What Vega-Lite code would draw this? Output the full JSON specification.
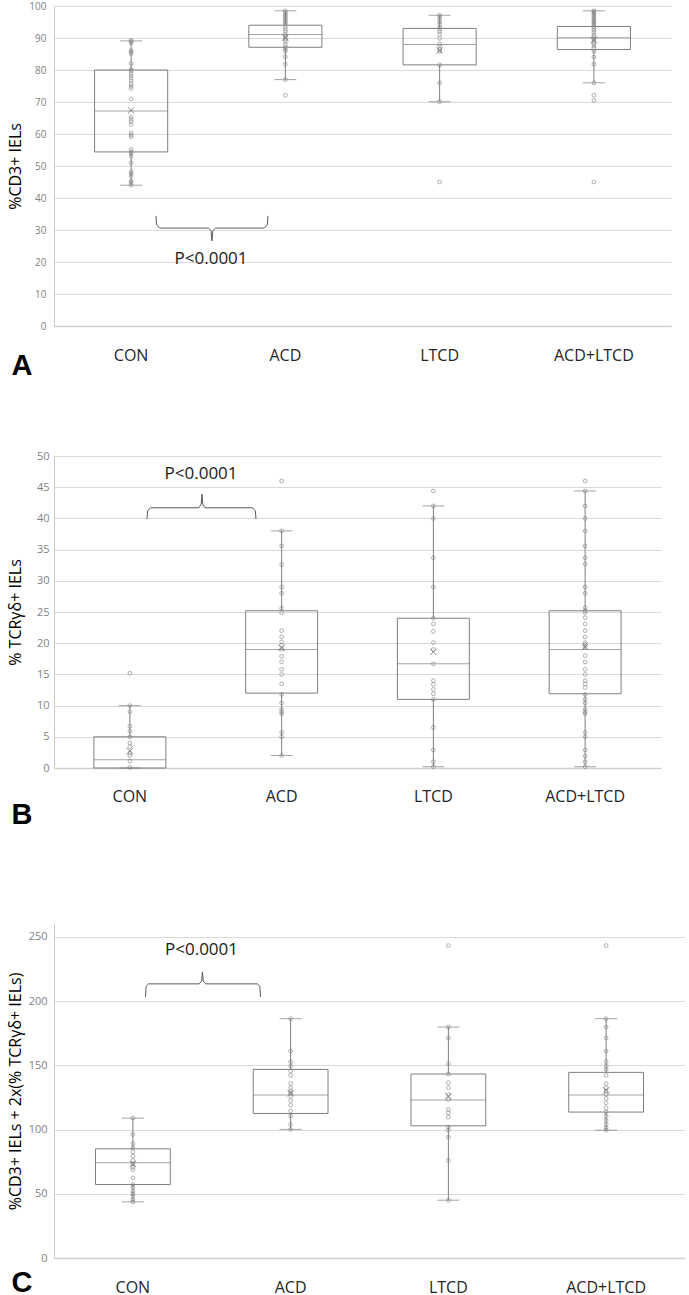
{
"$schema":"https://vega.github.io/schema/vega-lite/v6.json",
"background":"white",
"padding":{"left":7,"top":1,"right":0,"bottom":0},
"config":{"view":{"stroke":null},"font":"Open Sans",
"axis":{"labelFont":"Open Sans","titleFont":"Open Sans"},
"axisY":{"grid":true,"gridColor":"#d9d9d9","gridWidth":1,"domain":true,"domainColor":"#c8c8c8","ticks":false,"tickSize":0,"labelColor":"#7f7f7f","labelFont":"Open Sans","titleFont":"Open Sans","titleFontSize":16,"titleFontWeight":"normal","titleColor":"#000000","labelOverlap":false},
"axisX":{"titleAlign":"left","titleBaseline":"alphabetic","titleFont":"Liberation Sans","titleFontSize":29,"titleFontWeight":"bold","titleColor":"#000000","labelAngle":0,"labelFont":"Open Sans","labelFontSize":16,"labelColor":"#262626","ticks":false,"tickSize":0,"domainColor":"#d0d0d0","domainWidth":1.5,"grid":false}
},
"datasets":{
"box":[
{"p":"A","g":"CON","lo":44,"q1":54.4,"med":67.2,"q3":80,"hi":89.1,"mean":67.4},
{"p":"A","g":"ACD","lo":77,"q1":87.1,"med":91.1,"q3":94,"hi":98.5,"mean":90.1},
{"p":"A","g":"LTCD","lo":70.1,"q1":81.6,"med":88,"q3":93,"hi":97.1,"mean":86.1},
{"p":"A","g":"ACD+LTCD","lo":76,"q1":86.4,"med":90.1,"q3":93.6,"hi":98.5,"mean":89.3},
{"p":"B","g":"CON","lo":0,"q1":0,"med":1.34,"q3":5,"hi":10,"mean":2.7},
{"p":"B","g":"ACD","lo":2,"q1":12,"med":19,"q3":25.2,"hi":38,"mean":19.25},
{"p":"B","g":"LTCD","lo":0.2,"q1":11,"med":16.7,"q3":24,"hi":42,"mean":18.6},
{"p":"B","g":"ACD+LTCD","lo":0.2,"q1":11.9,"med":19,"q3":25.2,"hi":44.4,"mean":19.4},
{"p":"C","g":"CON","lo":43.7,"q1":57.2,"med":74.1,"q3":85,"hi":108.9,"mean":73.3},
{"p":"C","g":"ACD","lo":100.1,"q1":112.5,"med":126.8,"q3":146.8,"hi":186.3,"mean":128.4},
{"p":"C","g":"LTCD","lo":45,"q1":102.9,"med":122.9,"q3":143.2,"hi":179.8,"mean":126},
{"p":"C","g":"ACD+LTCD","lo":99.5,"q1":113.6,"med":126.8,"q3":144.5,"hi":186.3,"mean":130.5}
],
"pts":[
{"p":"A","g":"CON","v":89.3},{"p":"A","g":"CON","v":88.9},{"p":"A","g":"CON","v":88.4},{"p":"A","g":"CON","v":86.1},{"p":"A","g":"CON","v":85.7},{"p":"A","g":"CON","v":85.1},{"p":"A","g":"CON","v":82.0},{"p":"A","g":"CON","v":80.2},{"p":"A","g":"CON","v":79.7},{"p":"A","g":"CON","v":78.9},{"p":"A","g":"CON","v":78.1},{"p":"A","g":"CON","v":77.4},{"p":"A","g":"CON","v":76.6},{"p":"A","g":"CON","v":75.7},{"p":"A","g":"CON","v":74.9},{"p":"A","g":"CON","v":74.3},{"p":"A","g":"CON","v":71.0},{"p":"A","g":"CON","v":65.3},{"p":"A","g":"CON","v":64.6},{"p":"A","g":"CON","v":63.9},{"p":"A","g":"CON","v":63.0},{"p":"A","g":"CON","v":60.4},{"p":"A","g":"CON","v":59.7},{"p":"A","g":"CON","v":59.1},{"p":"A","g":"CON","v":55.2},{"p":"A","g":"CON","v":54.5},{"p":"A","g":"CON","v":53.9},{"p":"A","g":"CON","v":53.1},{"p":"A","g":"CON","v":51.0},{"p":"A","g":"CON","v":48.2},{"p":"A","g":"CON","v":47.6},{"p":"A","g":"CON","v":46.9},{"p":"A","g":"CON","v":45.3},{"p":"A","g":"CON","v":44.8},{"p":"A","g":"CON","v":44.0},
{"p":"A","g":"ACD","v":98.5},{"p":"A","g":"ACD","v":97.9},{"p":"A","g":"ACD","v":97.4},{"p":"A","g":"ACD","v":96.9},{"p":"A","g":"ACD","v":96.4},{"p":"A","g":"ACD","v":95.8},{"p":"A","g":"ACD","v":95.3},{"p":"A","g":"ACD","v":94.8},{"p":"A","g":"ACD","v":94.3},{"p":"A","g":"ACD","v":93.4},{"p":"A","g":"ACD","v":92.7},{"p":"A","g":"ACD","v":92.0},{"p":"A","g":"ACD","v":91.1},{"p":"A","g":"ACD","v":90.3},{"p":"A","g":"ACD","v":89.6},{"p":"A","g":"ACD","v":88.9},{"p":"A","g":"ACD","v":88.0},{"p":"A","g":"ACD","v":87.2},{"p":"A","g":"ACD","v":86.5},{"p":"A","g":"ACD","v":85.9},{"p":"A","g":"ACD","v":84.1},{"p":"A","g":"ACD","v":81.8},{"p":"A","g":"ACD","v":77.0},{"p":"A","g":"ACD","v":72.1},
{"p":"A","g":"LTCD","v":97.1},{"p":"A","g":"LTCD","v":96.6},{"p":"A","g":"LTCD","v":95.8},{"p":"A","g":"LTCD","v":95.1},{"p":"A","g":"LTCD","v":94.3},{"p":"A","g":"LTCD","v":93.4},{"p":"A","g":"LTCD","v":92.7},{"p":"A","g":"LTCD","v":92.0},{"p":"A","g":"LTCD","v":91.1},{"p":"A","g":"LTCD","v":89.9},{"p":"A","g":"LTCD","v":88.2},{"p":"A","g":"LTCD","v":87.5},{"p":"A","g":"LTCD","v":86.5},{"p":"A","g":"LTCD","v":85.9},{"p":"A","g":"LTCD","v":81.6},{"p":"A","g":"LTCD","v":76.0},{"p":"A","g":"LTCD","v":70.1},{"p":"A","g":"LTCD","v":45.0},
{"p":"A","g":"ACD+LTCD","v":98.5},{"p":"A","g":"ACD+LTCD","v":98.2},{"p":"A","g":"ACD+LTCD","v":97.7},{"p":"A","g":"ACD+LTCD","v":97.2},{"p":"A","g":"ACD+LTCD","v":96.7},{"p":"A","g":"ACD+LTCD","v":96.1},{"p":"A","g":"ACD+LTCD","v":95.6},{"p":"A","g":"ACD+LTCD","v":95.1},{"p":"A","g":"ACD+LTCD","v":94.6},{"p":"A","g":"ACD+LTCD","v":94.1},{"p":"A","g":"ACD+LTCD","v":93.5},{"p":"A","g":"ACD+LTCD","v":93.0},{"p":"A","g":"ACD+LTCD","v":92.4},{"p":"A","g":"ACD+LTCD","v":91.7},{"p":"A","g":"ACD+LTCD","v":90.9},{"p":"A","g":"ACD+LTCD","v":90.3},{"p":"A","g":"ACD+LTCD","v":89.6},{"p":"A","g":"ACD+LTCD","v":88.9},{"p":"A","g":"ACD+LTCD","v":88.2},{"p":"A","g":"ACD+LTCD","v":87.5},{"p":"A","g":"ACD+LTCD","v":86.8},{"p":"A","g":"ACD+LTCD","v":85.9},{"p":"A","g":"ACD+LTCD","v":84.1},{"p":"A","g":"ACD+LTCD","v":81.8},{"p":"A","g":"ACD+LTCD","v":76.0},{"p":"A","g":"ACD+LTCD","v":72.1},{"p":"A","g":"ACD+LTCD","v":70.5},{"p":"A","g":"ACD+LTCD","v":45.0},
{"p":"B","g":"CON","v":15.2},{"p":"B","g":"CON","v":10.0},{"p":"B","g":"CON","v":9.0},{"p":"B","g":"CON","v":6.7},{"p":"B","g":"CON","v":5.9},{"p":"B","g":"CON","v":5.0},{"p":"B","g":"CON","v":4.0},{"p":"B","g":"CON","v":3.4},{"p":"B","g":"CON","v":2.4},{"p":"B","g":"CON","v":2.0},{"p":"B","g":"CON","v":1.1},{"p":"B","g":"CON","v":0.1},
{"p":"B","g":"ACD","v":46.0},{"p":"B","g":"ACD","v":38.0},{"p":"B","g":"ACD","v":35.6},{"p":"B","g":"ACD","v":32.6},{"p":"B","g":"ACD","v":29.0},{"p":"B","g":"ACD","v":28.0},{"p":"B","g":"ACD","v":25.6},{"p":"B","g":"ACD","v":24.9},{"p":"B","g":"ACD","v":22.0},{"p":"B","g":"ACD","v":21.0},{"p":"B","g":"ACD","v":20.2},{"p":"B","g":"ACD","v":19.7},{"p":"B","g":"ACD","v":19.0},{"p":"B","g":"ACD","v":17.9},{"p":"B","g":"ACD","v":17.0},{"p":"B","g":"ACD","v":15.8},{"p":"B","g":"ACD","v":15.0},{"p":"B","g":"ACD","v":13.5},{"p":"B","g":"ACD","v":11.8},{"p":"B","g":"ACD","v":10.4},{"p":"B","g":"ACD","v":9.4},{"p":"B","g":"ACD","v":9.0},{"p":"B","g":"ACD","v":8.7},{"p":"B","g":"ACD","v":5.7},{"p":"B","g":"ACD","v":5.0},{"p":"B","g":"ACD","v":2.0},
{"p":"B","g":"LTCD","v":44.4},{"p":"B","g":"LTCD","v":42.0},{"p":"B","g":"LTCD","v":40.0},{"p":"B","g":"LTCD","v":33.7},{"p":"B","g":"LTCD","v":29.0},{"p":"B","g":"LTCD","v":24.0},{"p":"B","g":"LTCD","v":23.1},{"p":"B","g":"LTCD","v":21.9},{"p":"B","g":"LTCD","v":20.1},{"p":"B","g":"LTCD","v":19.0},{"p":"B","g":"LTCD","v":16.7},{"p":"B","g":"LTCD","v":14.0},{"p":"B","g":"LTCD","v":13.4},{"p":"B","g":"LTCD","v":12.6},{"p":"B","g":"LTCD","v":11.9},{"p":"B","g":"LTCD","v":11.0},{"p":"B","g":"LTCD","v":6.5},{"p":"B","g":"LTCD","v":2.9},{"p":"B","g":"LTCD","v":1.0},{"p":"B","g":"LTCD","v":0.2},
{"p":"B","g":"ACD+LTCD","v":46.0},{"p":"B","g":"ACD+LTCD","v":44.4},{"p":"B","g":"ACD+LTCD","v":42.0},{"p":"B","g":"ACD+LTCD","v":40.0},{"p":"B","g":"ACD+LTCD","v":38.0},{"p":"B","g":"ACD+LTCD","v":35.6},{"p":"B","g":"ACD+LTCD","v":33.7},{"p":"B","g":"ACD+LTCD","v":32.7},{"p":"B","g":"ACD+LTCD","v":29.0},{"p":"B","g":"ACD+LTCD","v":28.0},{"p":"B","g":"ACD+LTCD","v":25.7},{"p":"B","g":"ACD+LTCD","v":25.2},{"p":"B","g":"ACD+LTCD","v":24.9},{"p":"B","g":"ACD+LTCD","v":24.1},{"p":"B","g":"ACD+LTCD","v":23.1},{"p":"B","g":"ACD+LTCD","v":22.0},{"p":"B","g":"ACD+LTCD","v":21.0},{"p":"B","g":"ACD+LTCD","v":20.1},{"p":"B","g":"ACD+LTCD","v":19.8},{"p":"B","g":"ACD+LTCD","v":19.4},{"p":"B","g":"ACD+LTCD","v":18.0},{"p":"B","g":"ACD+LTCD","v":17.0},{"p":"B","g":"ACD+LTCD","v":15.8},{"p":"B","g":"ACD+LTCD","v":15.0},{"p":"B","g":"ACD+LTCD","v":14.0},{"p":"B","g":"ACD+LTCD","v":13.5},{"p":"B","g":"ACD+LTCD","v":12.9},{"p":"B","g":"ACD+LTCD","v":11.8},{"p":"B","g":"ACD+LTCD","v":11.0},{"p":"B","g":"ACD+LTCD","v":10.4},{"p":"B","g":"ACD+LTCD","v":9.4},{"p":"B","g":"ACD+LTCD","v":9.0},{"p":"B","g":"ACD+LTCD","v":8.7},{"p":"B","g":"ACD+LTCD","v":5.7},{"p":"B","g":"ACD+LTCD","v":5.0},{"p":"B","g":"ACD+LTCD","v":2.9},{"p":"B","g":"ACD+LTCD","v":1.9},{"p":"B","g":"ACD+LTCD","v":1.0},{"p":"B","g":"ACD+LTCD","v":0.2},
{"p":"C","g":"CON","v":108.9},{"p":"C","g":"CON","v":96.2},{"p":"C","g":"CON","v":89.1},{"p":"C","g":"CON","v":85.8},{"p":"C","g":"CON","v":82.6},{"p":"C","g":"CON","v":79.3},{"p":"C","g":"CON","v":75.9},{"p":"C","g":"CON","v":73.3},{"p":"C","g":"CON","v":70.7},{"p":"C","g":"CON","v":68.9},{"p":"C","g":"CON","v":62.4},{"p":"C","g":"CON","v":57.2},{"p":"C","g":"CON","v":55.1},{"p":"C","g":"CON","v":52.0},{"p":"C","g":"CON","v":49.9},{"p":"C","g":"CON","v":48.1},{"p":"C","g":"CON","v":45.5},{"p":"C","g":"CON","v":43.7},
{"p":"C","g":"ACD","v":186.3},{"p":"C","g":"ACD","v":161.1},{"p":"C","g":"ACD","v":152.8},{"p":"C","g":"ACD","v":149.4},{"p":"C","g":"ACD","v":145.5},{"p":"C","g":"ACD","v":142.2},{"p":"C","g":"ACD","v":135.9},{"p":"C","g":"ACD","v":132.5},{"p":"C","g":"ACD","v":129.9},{"p":"C","g":"ACD","v":128.4},{"p":"C","g":"ACD","v":126.0},{"p":"C","g":"ACD","v":122.7},{"p":"C","g":"ACD","v":119.0},{"p":"C","g":"ACD","v":114.3},{"p":"C","g":"ACD","v":110.4},{"p":"C","g":"ACD","v":103.9},{"p":"C","g":"ACD","v":100.1},
{"p":"C","g":"LTCD","v":243.2},{"p":"C","g":"LTCD","v":179.8},{"p":"C","g":"LTCD","v":171.3},{"p":"C","g":"LTCD","v":151.2},{"p":"C","g":"LTCD","v":143.2},{"p":"C","g":"LTCD","v":136.4},{"p":"C","g":"LTCD","v":132.5},{"p":"C","g":"LTCD","v":127.3},{"p":"C","g":"LTCD","v":123.4},{"p":"C","g":"LTCD","v":115.6},{"p":"C","g":"LTCD","v":113.0},{"p":"C","g":"LTCD","v":109.7},{"p":"C","g":"LTCD","v":101.9},{"p":"C","g":"LTCD","v":99.3},{"p":"C","g":"LTCD","v":94.1},{"p":"C","g":"LTCD","v":75.9},{"p":"C","g":"LTCD","v":45.0},
{"p":"C","g":"ACD+LTCD","v":243.2},{"p":"C","g":"ACD+LTCD","v":186.3},{"p":"C","g":"ACD+LTCD","v":179.8},{"p":"C","g":"ACD+LTCD","v":171.3},{"p":"C","g":"ACD+LTCD","v":161.1},{"p":"C","g":"ACD+LTCD","v":152.8},{"p":"C","g":"ACD+LTCD","v":149.4},{"p":"C","g":"ACD+LTCD","v":146.8},{"p":"C","g":"ACD+LTCD","v":142.2},{"p":"C","g":"ACD+LTCD","v":135.9},{"p":"C","g":"ACD+LTCD","v":132.5},{"p":"C","g":"ACD+LTCD","v":129.9},{"p":"C","g":"ACD+LTCD","v":127.3},{"p":"C","g":"ACD+LTCD","v":124.2},{"p":"C","g":"ACD+LTCD","v":120.8},{"p":"C","g":"ACD+LTCD","v":116.9},{"p":"C","g":"ACD+LTCD","v":113.8},{"p":"C","g":"ACD+LTCD","v":110.4},{"p":"C","g":"ACD+LTCD","v":107.1},{"p":"C","g":"ACD+LTCD","v":103.9},{"p":"C","g":"ACD+LTCD","v":101.3},{"p":"C","g":"ACD+LTCD","v":99.5}
],
"brace":[
{"p":"A","k":1,"x":1.161,"y":34.4},{"p":"A","k":2,"x":1.165,"y":31.6},{"p":"A","k":3,"x":1.185,"y":30.6},{"p":"A","k":4,"x":1.5,"y":30.6},{"p":"A","k":5,"x":1.518,"y":29.8},{"p":"A","k":6,"x":1.524,"y":26.6},{"p":"A","k":7,"x":1.53,"y":29.8},{"p":"A","k":8,"x":1.548,"y":30.6},{"p":"A","k":9,"x":1.863,"y":30.6},{"p":"A","k":10,"x":1.883,"y":31.6},{"p":"A","k":11,"x":1.887,"y":34.4},
{"p":"B","k":1,"x":1.113,"y":39.9},{"p":"B","k":2,"x":1.117,"y":41.2},{"p":"B","k":3,"x":1.135,"y":41.7},{"p":"B","k":4,"x":1.455,"y":41.7},{"p":"B","k":5,"x":1.47,"y":42.3},{"p":"B","k":6,"x":1.475,"y":43.9},{"p":"B","k":7,"x":1.48,"y":42.3},{"p":"B","k":8,"x":1.495,"y":41.7},{"p":"B","k":9,"x":1.809,"y":41.7},{"p":"B","k":10,"x":1.827,"y":41.2},{"p":"B","k":11,"x":1.831,"y":39.9},
{"p":"C","k":1,"x":1.08,"y":203.3},{"p":"C","k":2,"x":1.084,"y":211.5},{"p":"C","k":3,"x":1.1,"y":213.4},{"p":"C","k":4,"x":1.42,"y":213.4},{"p":"C","k":5,"x":1.436,"y":215.5},{"p":"C","k":6,"x":1.441,"y":222.7},{"p":"C","k":7,"x":1.446,"y":215.5},{"p":"C","k":8,"x":1.462,"y":213.4},{"p":"C","k":9,"x":1.789,"y":213.4},{"p":"C","k":10,"x":1.805,"y":211.5},{"p":"C","k":11,"x":1.809,"y":203.3}
],
"ptext":[
{"p":"A","x":1.518,"y":20.9,"t":"P<0.0001"},
{"p":"B","x":1.469,"y":47.1,"t":"P<0.0001"},
{"p":"C","x":1.435,"y":239.9,"t":"P<0.0001"}
]
},
"columns":1,
"spacing":94,
"align":"none",
"concat":[
{"columns":1,"spacing":70,"align":"none","concat":[
{
"width":617,"height":320,
"resolve":{"scale":{"x":"independent"}},
"layer":[
{"encoding":{"x":{"field":"g","type":"nominal","sort":["CON","ACD","LTCD","ACD+LTCD"],"scale":{"paddingInner":0,"paddingOuter":0},"axis":{"title":"A","titleX":-43,"titleY":48,"labelPadding":21}}},
"layer":[
{"data":{"name":"box"},"transform":[{"filter":"datum.p==='A'"}],"layer":[
{"mark":{"type":"rule","color":"#7f7f7f"},"encoding":{"y":{"field":"q3","type":"quantitative","scale":{"domain":[0,100],"nice":false},"title":"%CD3+ IELs","axis":{"values":[0,10,20,30,40,50,60,70,80,90,100],"labelFontSize":10,"labelPadding":8,"titlePadding":5.8,"titleFontSize":16,"titleFontWeight":"normal","titleColor":"#000000"}},"y2":{"field":"hi"}}},
{"mark":{"type":"rule","color":"#7f7f7f"},"encoding":{"y":{"field":"lo","type":"quantitative","scale":{"domain":[0,100],"nice":false},"title":"%CD3+ IELs","axis":{"values":[0,10,20,30,40,50,60,70,80,90,100],"labelFontSize":10,"labelPadding":8,"titlePadding":5.8,"titleFontSize":16,"titleFontWeight":"normal","titleColor":"#000000"}},"y2":{"field":"q1"}}},
{"mark":{"type":"bar","filled":false,"color":"#7f7f7f","strokeWidth":1,"width":{"band":0.474}},"encoding":{"y":{"field":"q1","type":"quantitative","scale":{"domain":[0,100],"nice":false},"title":"%CD3+ IELs","axis":{"values":[0,10,20,30,40,50,60,70,80,90,100],"labelFontSize":10,"labelPadding":8,"titlePadding":5.8,"titleFontSize":16,"titleFontWeight":"normal","titleColor":"#000000"}},"y2":{"field":"q3"}}},
{"mark":{"type":"tick","orient":"horizontal","size":22,"thickness":1,"color":"#7f7f7f"},"encoding":{"y":{"field":"hi","type":"quantitative","scale":{"domain":[0,100],"nice":false},"title":"%CD3+ IELs","axis":{"values":[0,10,20,30,40,50,60,70,80,90,100],"labelFontSize":10,"labelPadding":8,"titlePadding":5.8,"titleFontSize":16,"titleFontWeight":"normal","titleColor":"#000000"}}}},
{"mark":{"type":"tick","orient":"horizontal","size":22,"thickness":1,"color":"#7f7f7f"},"encoding":{"y":{"field":"lo","type":"quantitative","scale":{"domain":[0,100],"nice":false},"title":"%CD3+ IELs","axis":{"values":[0,10,20,30,40,50,60,70,80,90,100],"labelFontSize":10,"labelPadding":8,"titlePadding":5.8,"titleFontSize":16,"titleFontWeight":"normal","titleColor":"#000000"}}}},
{"mark":{"type":"tick","orient":"horizontal","size":73,"thickness":1,"color":"#7f7f7f"},"encoding":{"y":{"field":"med","type":"quantitative","scale":{"domain":[0,100],"nice":false},"title":"%CD3+ IELs","axis":{"values":[0,10,20,30,40,50,60,70,80,90,100],"labelFontSize":10,"labelPadding":8,"titlePadding":5.8,"titleFontSize":16,"titleFontWeight":"normal","titleColor":"#000000"}}}}
]},
{"data":{"name":"pts"},"transform":[{"filter":"datum.p==='A'"}],"mark":{"type":"point","shape":"circle","size":14,"filled":false,"color":"#808080","strokeWidth":0.9},"encoding":{"y":{"field":"v","type":"quantitative","scale":{"domain":[0,100],"nice":false},"title":"%CD3+ IELs","axis":{"values":[0,10,20,30,40,50,60,70,80,90,100],"labelFontSize":10,"labelPadding":8,"titlePadding":5.8,"titleFontSize":16,"titleFontWeight":"normal","titleColor":"#000000"}}}},
{"data":{"name":"box"},"transform":[{"filter":"datum.p==='A'"}],"mark":{"type":"point","shape":"M-1,-1L1,1M-1,1L1,-1","size":40,"filled":false,"color":"#595959","strokeWidth":1},"encoding":{"y":{"field":"mean","type":"quantitative","scale":{"domain":[0,100],"nice":false},"title":"%CD3+ IELs","axis":{"values":[0,10,20,30,40,50,60,70,80,90,100],"labelFontSize":10,"labelPadding":8,"titlePadding":5.8,"titleFontSize":16,"titleFontWeight":"normal","titleColor":"#000000"}}}}
]},
{"layer":[
{"data":{"name":"brace"},"transform":[{"filter":"datum.p==='A'"}],"mark":{"type":"line","color":"#595959","strokeWidth":1},"encoding":{"x":{"field":"x","type":"quantitative","scale":{"domain":[0.5,4.5],"nice":false,"zero":false},"axis":null},"y":{"field":"y","type":"quantitative","scale":{"domain":[0,100],"nice":false},"title":"%CD3+ IELs","axis":{"values":[0,10,20,30,40,50,60,70,80,90,100],"labelFontSize":10,"labelPadding":8,"titlePadding":5.8,"titleFontSize":16,"titleFontWeight":"normal","titleColor":"#000000"}},"order":{"field":"k","type":"quantitative"}}},
{"data":{"name":"ptext"},"transform":[{"filter":"datum.p==='A'"}],"mark":{"type":"text","fontSize":17,"color":"#1a1a1a","font":"Open Sans"},"encoding":{"x":{"field":"x","type":"quantitative","scale":{"domain":[0.5,4.5],"nice":false,"zero":false},"axis":null},"y":{"field":"y","type":"quantitative","scale":{"domain":[0,100],"nice":false},"title":"%CD3+ IELs","axis":{"values":[0,10,20,30,40,50,60,70,80,90,100],"labelFontSize":10,"labelPadding":8,"titlePadding":5.8,"titleFontSize":16,"titleFontWeight":"normal","titleColor":"#000000"}},"text":{"field":"t"}}}
]}
]
},
{
"width":607,"height":312,
"resolve":{"scale":{"x":"independent"}},
"layer":[
{"encoding":{"x":{"field":"g","type":"nominal","sort":["CON","ACD","LTCD","ACD+LTCD"],"scale":{"paddingInner":0,"paddingOuter":0},"axis":{"title":"B","titleX":-43,"titleY":55.5,"labelPadding":20}}},
"layer":[
{"data":{"name":"box"},"transform":[{"filter":"datum.p==='B'"}],"layer":[
{"mark":{"type":"rule","color":"#7f7f7f"},"encoding":{"y":{"field":"q3","type":"quantitative","scale":{"domain":[0,50],"nice":false},"title":"% TCRγδ+ IELs","axis":{"values":[0,5,10,15,20,25,30,35,40,45,50],"labelFontSize":11,"labelPadding":5,"titlePadding":13.4,"titleFontSize":16,"titleFontWeight":"normal","titleColor":"#000000"}},"y2":{"field":"hi"}}},
{"mark":{"type":"rule","color":"#7f7f7f"},"encoding":{"y":{"field":"lo","type":"quantitative","scale":{"domain":[0,50],"nice":false},"title":"% TCRγδ+ IELs","axis":{"values":[0,5,10,15,20,25,30,35,40,45,50],"labelFontSize":11,"labelPadding":5,"titlePadding":13.4,"titleFontSize":16,"titleFontWeight":"normal","titleColor":"#000000"}},"y2":{"field":"q1"}}},
{"mark":{"type":"bar","filled":false,"color":"#7f7f7f","strokeWidth":1,"width":{"band":0.474}},"encoding":{"y":{"field":"q1","type":"quantitative","scale":{"domain":[0,50],"nice":false},"title":"% TCRγδ+ IELs","axis":{"values":[0,5,10,15,20,25,30,35,40,45,50],"labelFontSize":11,"labelPadding":5,"titlePadding":13.4,"titleFontSize":16,"titleFontWeight":"normal","titleColor":"#000000"}},"y2":{"field":"q3"}}},
{"mark":{"type":"tick","orient":"horizontal","size":22,"thickness":1,"color":"#7f7f7f"},"encoding":{"y":{"field":"hi","type":"quantitative","scale":{"domain":[0,50],"nice":false},"title":"% TCRγδ+ IELs","axis":{"values":[0,5,10,15,20,25,30,35,40,45,50],"labelFontSize":11,"labelPadding":5,"titlePadding":13.4,"titleFontSize":16,"titleFontWeight":"normal","titleColor":"#000000"}}}},
{"mark":{"type":"tick","orient":"horizontal","size":22,"thickness":1,"color":"#7f7f7f"},"encoding":{"y":{"field":"lo","type":"quantitative","scale":{"domain":[0,50],"nice":false},"title":"% TCRγδ+ IELs","axis":{"values":[0,5,10,15,20,25,30,35,40,45,50],"labelFontSize":11,"labelPadding":5,"titlePadding":13.4,"titleFontSize":16,"titleFontWeight":"normal","titleColor":"#000000"}}}},
{"mark":{"type":"tick","orient":"horizontal","size":72,"thickness":1,"color":"#7f7f7f"},"encoding":{"y":{"field":"med","type":"quantitative","scale":{"domain":[0,50],"nice":false},"title":"% TCRγδ+ IELs","axis":{"values":[0,5,10,15,20,25,30,35,40,45,50],"labelFontSize":11,"labelPadding":5,"titlePadding":13.4,"titleFontSize":16,"titleFontWeight":"normal","titleColor":"#000000"}}}}
]},
{"data":{"name":"pts"},"transform":[{"filter":"datum.p==='B'"}],"mark":{"type":"point","shape":"circle","size":14,"filled":false,"color":"#808080","strokeWidth":0.9},"encoding":{"y":{"field":"v","type":"quantitative","scale":{"domain":[0,50],"nice":false},"title":"% TCRγδ+ IELs","axis":{"values":[0,5,10,15,20,25,30,35,40,45,50],"labelFontSize":11,"labelPadding":5,"titlePadding":13.4,"titleFontSize":16,"titleFontWeight":"normal","titleColor":"#000000"}}}},
{"data":{"name":"box"},"transform":[{"filter":"datum.p==='B'"}],"mark":{"type":"point","shape":"M-1,-1L1,1M-1,1L1,-1","size":40,"filled":false,"color":"#595959","strokeWidth":1},"encoding":{"y":{"field":"mean","type":"quantitative","scale":{"domain":[0,50],"nice":false},"title":"% TCRγδ+ IELs","axis":{"values":[0,5,10,15,20,25,30,35,40,45,50],"labelFontSize":11,"labelPadding":5,"titlePadding":13.4,"titleFontSize":16,"titleFontWeight":"normal","titleColor":"#000000"}}}}
]},
{"layer":[
{"data":{"name":"brace"},"transform":[{"filter":"datum.p==='B'"}],"mark":{"type":"line","color":"#595959","strokeWidth":1},"encoding":{"x":{"field":"x","type":"quantitative","scale":{"domain":[0.5,4.5],"nice":false,"zero":false},"axis":null},"y":{"field":"y","type":"quantitative","scale":{"domain":[0,50],"nice":false},"title":"% TCRγδ+ IELs","axis":{"values":[0,5,10,15,20,25,30,35,40,45,50],"labelFontSize":11,"labelPadding":5,"titlePadding":13.4,"titleFontSize":16,"titleFontWeight":"normal","titleColor":"#000000"}},"order":{"field":"k","type":"quantitative"}}},
{"data":{"name":"ptext"},"transform":[{"filter":"datum.p==='B'"}],"mark":{"type":"text","fontSize":17,"color":"#1a1a1a","font":"Open Sans"},"encoding":{"x":{"field":"x","type":"quantitative","scale":{"domain":[0.5,4.5],"nice":false,"zero":false},"axis":null},"y":{"field":"y","type":"quantitative","scale":{"domain":[0,50],"nice":false},"title":"% TCRγδ+ IELs","axis":{"values":[0,5,10,15,20,25,30,35,40,45,50],"labelFontSize":11,"labelPadding":5,"titlePadding":13.4,"titleFontSize":16,"titleFontWeight":"normal","titleColor":"#000000"}},"text":{"field":"t"}}}
]}
]
}
]},
{
"width":631,"height":334,
"resolve":{"scale":{"x":"independent"}},
"layer":[
{"encoding":{"x":{"field":"g","type":"nominal","sort":["CON","ACD","LTCD","ACD+LTCD"],"scale":{"paddingInner":0,"paddingOuter":0},"axis":{"title":"C","titleX":-43,"titleY":33,"labelPadding":21}}},
"layer":[
{"data":{"name":"box"},"transform":[{"filter":"datum.p==='C'"}],"layer":[
{"mark":{"type":"rule","color":"#7f7f7f"},"encoding":{"y":{"field":"q3","type":"quantitative","scale":{"domain":[0,260],"nice":false},"title":"%CD3+ IELs + 2x(% TCRγδ+ IELs)","axis":{"values":[0,50,100,150,200,250],"labelFontSize":11,"labelPadding":7,"titlePadding":5.1,"titleFontSize":16,"titleFontWeight":"normal","titleColor":"#000000"}},"y2":{"field":"hi"}}},
{"mark":{"type":"rule","color":"#7f7f7f"},"encoding":{"y":{"field":"lo","type":"quantitative","scale":{"domain":[0,260],"nice":false},"title":"%CD3+ IELs + 2x(% TCRγδ+ IELs)","axis":{"values":[0,50,100,150,200,250],"labelFontSize":11,"labelPadding":7,"titlePadding":5.1,"titleFontSize":16,"titleFontWeight":"normal","titleColor":"#000000"}},"y2":{"field":"q1"}}},
{"mark":{"type":"bar","filled":false,"color":"#7f7f7f","strokeWidth":1,"width":{"band":0.474}},"encoding":{"y":{"field":"q1","type":"quantitative","scale":{"domain":[0,260],"nice":false},"title":"%CD3+ IELs + 2x(% TCRγδ+ IELs)","axis":{"values":[0,50,100,150,200,250],"labelFontSize":11,"labelPadding":7,"titlePadding":5.1,"titleFontSize":16,"titleFontWeight":"normal","titleColor":"#000000"}},"y2":{"field":"q3"}}},
{"mark":{"type":"tick","orient":"horizontal","size":22,"thickness":1,"color":"#7f7f7f"},"encoding":{"y":{"field":"hi","type":"quantitative","scale":{"domain":[0,260],"nice":false},"title":"%CD3+ IELs + 2x(% TCRγδ+ IELs)","axis":{"values":[0,50,100,150,200,250],"labelFontSize":11,"labelPadding":7,"titlePadding":5.1,"titleFontSize":16,"titleFontWeight":"normal","titleColor":"#000000"}}}},
{"mark":{"type":"tick","orient":"horizontal","size":22,"thickness":1,"color":"#7f7f7f"},"encoding":{"y":{"field":"lo","type":"quantitative","scale":{"domain":[0,260],"nice":false},"title":"%CD3+ IELs + 2x(% TCRγδ+ IELs)","axis":{"values":[0,50,100,150,200,250],"labelFontSize":11,"labelPadding":7,"titlePadding":5.1,"titleFontSize":16,"titleFontWeight":"normal","titleColor":"#000000"}}}},
{"mark":{"type":"tick","orient":"horizontal","size":75,"thickness":1,"color":"#7f7f7f"},"encoding":{"y":{"field":"med","type":"quantitative","scale":{"domain":[0,260],"nice":false},"title":"%CD3+ IELs + 2x(% TCRγδ+ IELs)","axis":{"values":[0,50,100,150,200,250],"labelFontSize":11,"labelPadding":7,"titlePadding":5.1,"titleFontSize":16,"titleFontWeight":"normal","titleColor":"#000000"}}}}
]},
{"data":{"name":"pts"},"transform":[{"filter":"datum.p==='C'"}],"mark":{"type":"point","shape":"circle","size":14,"filled":false,"color":"#808080","strokeWidth":0.9},"encoding":{"y":{"field":"v","type":"quantitative","scale":{"domain":[0,260],"nice":false},"title":"%CD3+ IELs + 2x(% TCRγδ+ IELs)","axis":{"values":[0,50,100,150,200,250],"labelFontSize":11,"labelPadding":7,"titlePadding":5.1,"titleFontSize":16,"titleFontWeight":"normal","titleColor":"#000000"}}}},
{"data":{"name":"box"},"transform":[{"filter":"datum.p==='C'"}],"mark":{"type":"point","shape":"M-1,-1L1,1M-1,1L1,-1","size":40,"filled":false,"color":"#595959","strokeWidth":1},"encoding":{"y":{"field":"mean","type":"quantitative","scale":{"domain":[0,260],"nice":false},"title":"%CD3+ IELs + 2x(% TCRγδ+ IELs)","axis":{"values":[0,50,100,150,200,250],"labelFontSize":11,"labelPadding":7,"titlePadding":5.1,"titleFontSize":16,"titleFontWeight":"normal","titleColor":"#000000"}}}}
]},
{"layer":[
{"data":{"name":"brace"},"transform":[{"filter":"datum.p==='C'"}],"mark":{"type":"line","color":"#595959","strokeWidth":1},"encoding":{"x":{"field":"x","type":"quantitative","scale":{"domain":[0.5,4.5],"nice":false,"zero":false},"axis":null},"y":{"field":"y","type":"quantitative","scale":{"domain":[0,260],"nice":false},"title":"%CD3+ IELs + 2x(% TCRγδ+ IELs)","axis":{"values":[0,50,100,150,200,250],"labelFontSize":11,"labelPadding":7,"titlePadding":5.1,"titleFontSize":16,"titleFontWeight":"normal","titleColor":"#000000"}},"order":{"field":"k","type":"quantitative"}}},
{"data":{"name":"ptext"},"transform":[{"filter":"datum.p==='C'"}],"mark":{"type":"text","fontSize":17,"color":"#1a1a1a","font":"Open Sans"},"encoding":{"x":{"field":"x","type":"quantitative","scale":{"domain":[0.5,4.5],"nice":false,"zero":false},"axis":null},"y":{"field":"y","type":"quantitative","scale":{"domain":[0,260],"nice":false},"title":"%CD3+ IELs + 2x(% TCRγδ+ IELs)","axis":{"values":[0,50,100,150,200,250],"labelFontSize":11,"labelPadding":7,"titlePadding":5.1,"titleFontSize":16,"titleFontWeight":"normal","titleColor":"#000000"}},"text":{"field":"t"}}}
]}
]
}
]
}
